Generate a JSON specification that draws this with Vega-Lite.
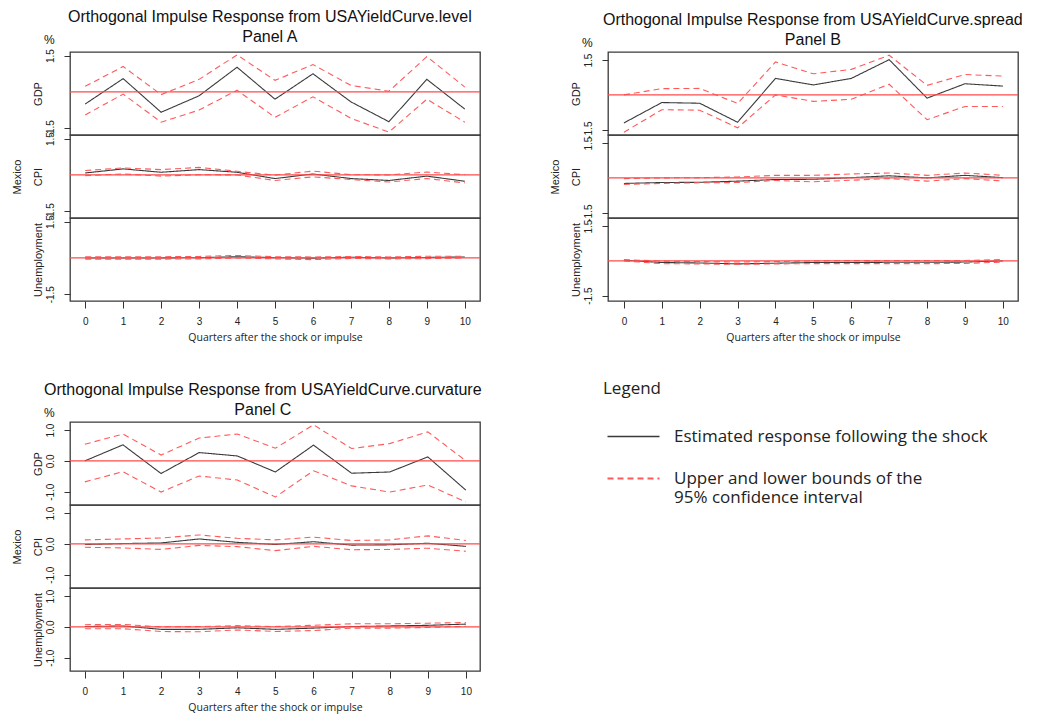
{
  "$schema": "https://vega.github.io/schema/vega-lite/v6.json",
  "padding": {"left": 10, "top": 9, "right": 5, "bottom": 3},
  "background": "white",
  "datasets": {
    "irf": [
      {"panel":"A","resp":"GDP","q":0,"est":-0.50,"lo":-0.95,"hi":0.23},
      {"panel":"A","resp":"GDP","q":1,"est":0.55,"lo":-0.09,"hi":1.05},
      {"panel":"A","resp":"GDP","q":2,"est":-0.84,"lo":-1.25,"hi":-0.11},
      {"panel":"A","resp":"GDP","q":3,"est":-0.16,"lo":-0.75,"hi":0.52},
      {"panel":"A","resp":"GDP","q":4,"est":1.02,"lo":0.07,"hi":1.53},
      {"panel":"A","resp":"GDP","q":5,"est":-0.30,"lo":-1.05,"hi":0.48},
      {"panel":"A","resp":"GDP","q":6,"est":0.75,"lo":-0.20,"hi":1.13},
      {"panel":"A","resp":"GDP","q":7,"est":-0.41,"lo":-1.09,"hi":0.27},
      {"panel":"A","resp":"GDP","q":8,"est":-1.23,"lo":-1.66,"hi":0.03},
      {"panel":"A","resp":"GDP","q":9,"est":0.52,"lo":-0.30,"hi":1.46},
      {"panel":"A","resp":"GDP","q":10,"est":-0.71,"lo":-1.25,"hi":0.20},
      {"panel":"A","resp":"CPI","q":0,"est":0.08,"lo":-0.03,"hi":0.18},
      {"panel":"A","resp":"CPI","q":1,"est":0.25,"lo":0.04,"hi":0.29},
      {"panel":"A","resp":"CPI","q":2,"est":0.11,"lo":-0.05,"hi":0.22},
      {"panel":"A","resp":"CPI","q":3,"est":0.22,"lo":0.01,"hi":0.31},
      {"panel":"A","resp":"CPI","q":4,"est":0.11,"lo":0.00,"hi":0.15},
      {"panel":"A","resp":"CPI","q":5,"est":-0.15,"lo":-0.23,"hi":-0.01},
      {"panel":"A","resp":"CPI","q":6,"est":0.04,"lo":-0.08,"hi":0.16},
      {"panel":"A","resp":"CPI","q":7,"est":-0.15,"lo":-0.19,"hi":0.01},
      {"panel":"A","resp":"CPI","q":8,"est":-0.23,"lo":-0.29,"hi":0.00},
      {"panel":"A","resp":"CPI","q":9,"est":-0.05,"lo":-0.15,"hi":0.12},
      {"panel":"A","resp":"CPI","q":10,"est":-0.26,"lo":-0.33,"hi":0.01},
      {"panel":"A","resp":"Unemployment","q":0,"est":0.00,"lo":-0.05,"hi":0.05},
      {"panel":"A","resp":"Unemployment","q":1,"est":0.00,"lo":-0.05,"hi":0.05},
      {"panel":"A","resp":"Unemployment","q":2,"est":0.00,"lo":-0.05,"hi":0.05},
      {"panel":"A","resp":"Unemployment","q":3,"est":0.01,"lo":-0.04,"hi":0.06},
      {"panel":"A","resp":"Unemployment","q":4,"est":0.05,"lo":0.00,"hi":0.10},
      {"panel":"A","resp":"Unemployment","q":5,"est":0.01,"lo":-0.04,"hi":0.05},
      {"panel":"A","resp":"Unemployment","q":6,"est":-0.01,"lo":-0.07,"hi":0.04},
      {"panel":"A","resp":"Unemployment","q":7,"est":0.03,"lo":-0.02,"hi":0.06},
      {"panel":"A","resp":"Unemployment","q":8,"est":0.00,"lo":-0.04,"hi":0.04},
      {"panel":"A","resp":"Unemployment","q":9,"est":0.02,"lo":-0.03,"hi":0.07},
      {"panel":"A","resp":"Unemployment","q":10,"est":0.04,"lo":0.00,"hi":0.07},
      {"panel":"B","resp":"GDP","q":0,"est":-1.21,"lo":-1.61,"hi":0.00},
      {"panel":"B","resp":"GDP","q":1,"est":-0.33,"lo":-0.64,"hi":0.27},
      {"panel":"B","resp":"GDP","q":2,"est":-0.36,"lo":-0.66,"hi":0.28},
      {"panel":"B","resp":"GDP","q":3,"est":-1.18,"lo":-1.42,"hi":-0.37},
      {"panel":"B","resp":"GDP","q":4,"est":0.71,"lo":0.00,"hi":1.42},
      {"panel":"B","resp":"GDP","q":5,"est":0.43,"lo":-0.28,"hi":0.91},
      {"panel":"B","resp":"GDP","q":6,"est":0.71,"lo":-0.19,"hi":1.10},
      {"panel":"B","resp":"GDP","q":7,"est":1.52,"lo":0.46,"hi":1.71},
      {"panel":"B","resp":"GDP","q":8,"est":-0.14,"lo":-1.07,"hi":0.41},
      {"panel":"B","resp":"GDP","q":9,"est":0.48,"lo":-0.50,"hi":0.88},
      {"panel":"B","resp":"GDP","q":10,"est":0.38,"lo":-0.50,"hi":0.81},
      {"panel":"B","resp":"CPI","q":0,"est":-0.24,"lo":-0.28,"hi":-0.03},
      {"panel":"B","resp":"CPI","q":1,"est":-0.20,"lo":-0.24,"hi":0.00},
      {"panel":"B","resp":"CPI","q":2,"est":-0.19,"lo":-0.21,"hi":0.01},
      {"panel":"B","resp":"CPI","q":3,"est":-0.14,"lo":-0.20,"hi":0.04},
      {"panel":"B","resp":"CPI","q":4,"est":-0.07,"lo":-0.11,"hi":0.11},
      {"panel":"B","resp":"CPI","q":5,"est":-0.06,"lo":-0.17,"hi":0.11},
      {"panel":"B","resp":"CPI","q":6,"est":0.01,"lo":-0.10,"hi":0.17},
      {"panel":"B","resp":"CPI","q":7,"est":0.09,"lo":-0.03,"hi":0.21},
      {"panel":"B","resp":"CPI","q":8,"est":0.00,"lo":-0.14,"hi":0.11},
      {"panel":"B","resp":"CPI","q":9,"est":0.11,"lo":-0.03,"hi":0.21},
      {"panel":"B","resp":"CPI","q":10,"est":0.01,"lo":-0.13,"hi":0.11},
      {"panel":"B","resp":"Unemployment","q":0,"est":0.03,"lo":0.00,"hi":0.06},
      {"panel":"B","resp":"Unemployment","q":1,"est":-0.07,"lo":-0.12,"hi":-0.01},
      {"panel":"B","resp":"Unemployment","q":2,"est":-0.09,"lo":-0.13,"hi":-0.03},
      {"panel":"B","resp":"Unemployment","q":3,"est":-0.13,"lo":-0.15,"hi":-0.05},
      {"panel":"B","resp":"Unemployment","q":4,"est":-0.10,"lo":-0.13,"hi":-0.03},
      {"panel":"B","resp":"Unemployment","q":5,"est":-0.07,"lo":-0.12,"hi":0.00},
      {"panel":"B","resp":"Unemployment","q":6,"est":-0.07,"lo":-0.12,"hi":0.01},
      {"panel":"B","resp":"Unemployment","q":7,"est":-0.06,"lo":-0.12,"hi":0.01},
      {"panel":"B","resp":"Unemployment","q":8,"est":-0.06,"lo":-0.12,"hi":0.01},
      {"panel":"B","resp":"Unemployment","q":9,"est":-0.05,"lo":-0.11,"hi":0.02},
      {"panel":"B","resp":"Unemployment","q":10,"est":0.00,"lo":-0.05,"hi":0.06},
      {"panel":"C","resp":"GDP","q":0,"est":0.00,"lo":-0.68,"hi":0.54},
      {"panel":"C","resp":"GDP","q":1,"est":0.52,"lo":-0.35,"hi":0.87},
      {"panel":"C","resp":"GDP","q":2,"est":-0.41,"lo":-1.01,"hi":0.19},
      {"panel":"C","resp":"GDP","q":3,"est":0.27,"lo":-0.49,"hi":0.74},
      {"panel":"C","resp":"GDP","q":4,"est":0.16,"lo":-0.62,"hi":0.87},
      {"panel":"C","resp":"GDP","q":5,"est":-0.36,"lo":-1.17,"hi":0.41},
      {"panel":"C","resp":"GDP","q":6,"est":0.51,"lo":-0.32,"hi":1.17},
      {"panel":"C","resp":"GDP","q":7,"est":-0.40,"lo":-0.81,"hi":0.40},
      {"panel":"C","resp":"GDP","q":8,"est":-0.36,"lo":-1.01,"hi":0.56},
      {"panel":"C","resp":"GDP","q":9,"est":0.13,"lo":-0.78,"hi":0.94},
      {"panel":"C","resp":"GDP","q":10,"est":-0.95,"lo":-1.33,"hi":0.00},
      {"panel":"C","resp":"CPI","q":0,"est":-0.02,"lo":-0.11,"hi":0.13},
      {"panel":"C","resp":"CPI","q":1,"est":0.01,"lo":-0.13,"hi":0.16},
      {"panel":"C","resp":"CPI","q":2,"est":0.03,"lo":-0.18,"hi":0.19},
      {"panel":"C","resp":"CPI","q":3,"est":0.16,"lo":-0.05,"hi":0.29},
      {"panel":"C","resp":"CPI","q":4,"est":0.05,"lo":-0.09,"hi":0.18},
      {"panel":"C","resp":"CPI","q":5,"est":-0.02,"lo":-0.22,"hi":0.13},
      {"panel":"C","resp":"CPI","q":6,"est":0.07,"lo":-0.08,"hi":0.22},
      {"panel":"C","resp":"CPI","q":7,"est":-0.04,"lo":-0.19,"hi":0.11},
      {"panel":"C","resp":"CPI","q":8,"est":-0.03,"lo":-0.18,"hi":0.13},
      {"panel":"C","resp":"CPI","q":9,"est":0.02,"lo":-0.14,"hi":0.26},
      {"panel":"C","resp":"CPI","q":10,"est":-0.08,"lo":-0.24,"hi":0.11},
      {"panel":"C","resp":"Unemployment","q":0,"est":0.01,"lo":-0.06,"hi":0.07},
      {"panel":"C","resp":"Unemployment","q":1,"est":0.03,"lo":-0.06,"hi":0.08},
      {"panel":"C","resp":"Unemployment","q":2,"est":-0.08,"lo":-0.15,"hi":0.00},
      {"panel":"C","resp":"Unemployment","q":3,"est":-0.08,"lo":-0.16,"hi":0.01},
      {"panel":"C","resp":"Unemployment","q":4,"est":-0.03,"lo":-0.10,"hi":0.04},
      {"panel":"C","resp":"Unemployment","q":5,"est":-0.08,"lo":-0.15,"hi":0.01},
      {"panel":"C","resp":"Unemployment","q":6,"est":-0.04,"lo":-0.12,"hi":0.05},
      {"panel":"C","resp":"Unemployment","q":7,"est":0.01,"lo":-0.04,"hi":0.10},
      {"panel":"C","resp":"Unemployment","q":8,"est":0.03,"lo":-0.04,"hi":0.10},
      {"panel":"C","resp":"Unemployment","q":9,"est":0.05,"lo":-0.02,"hi":0.12},
      {"panel":"C","resp":"Unemployment","q":10,"est":0.09,"lo":0.02,"hi":0.14}
    ]
  },
  "data": {"name": "irf"},
  "spacing": 38,
  "vconcat": [
    {
      "spacing": 66,
      "hconcat": [
        {
          "spacing": 0, "bounds": "flush",
          "title": {"text": ["Orthogonal Impulse Response from USAYieldCurve.level", "Panel A"], "anchor": "middle", "frame": "bounds", "dx": 24, "offset": -12},
          "vconcat": [
            {
              "width": 410, "height": 83,
              "title": {"text": "%", "anchor": "start", "frame": "group", "dx": -26, "offset": 2, "fontSize": 12, "lineHeight": 12},
              "transform": [{"filter": "datum.panel == 'A' && datum.resp == 'GDP'"}, {"fold": ["est", "hi", "lo"], "as": ["key", "value"]}],
              "layer": [
                {"mark": {"type": "line", "strokeWidth": 1.1},
                 "encoding": {
                   "x": {"field": "q", "type": "quantitative", "scale": {"domain": [-0.4, 10.4], "nice": false, "zero": false}, "axis": null},
                   "y": {"field": "value", "type": "quantitative", "scale": {"domain": [-1.78, 1.65], "nice": false, "zero": false}, "axis": {"title": "GDP", "values": [-1.5, -1, -0.5, 0, 0.5, 1, 1.5], "labelExpr": "datum.value == 0 ? '0.0' : datum.value == 1.5 ? '1.5' : datum.value == -1.5 ? '-1.5' : ''"}},
                   "detail": {"field": "key"},
                   "color": {"field": "key", "type": "nominal", "scale": {"domain": ["est", "hi", "lo"], "range": ["#3a3a3a", "#ff5a5a", "#ff5a5a"]}, "legend": {"title": "Legend", "values": ["est", "hi"], "labelExpr": "datum.value == 'est' ? 'Estimated response following the shock' : ['Upper and lower bounds of the', '95% confidence interval']", "encode": {"symbols": {"update": {"strokeDash": {"signal": "datum.value == 'est' ? [] : [1.5, 1]"}, "strokeWidth": {"signal": "datum.value == 'est' ? 1.3 : 2"}}}}}},
                   "strokeDash": {"field": "key", "type": "nominal", "scale": {"domain": ["est", "hi", "lo"], "range": [[1, 0], [6, 4], [6, 4]]}, "legend": null}
                 }},
                {"transform": [{"filter": "datum.q == 0 && datum.key == 'est'"}], "mark": {"type": "rule", "color": "#ff4a4a", "strokeWidth": 1.3}, "encoding": {"y": {"datum": 0, "type": "quantitative"}}}
              ]
            },
            {
              "width": 410, "height": 83,
              "transform": [{"filter": "datum.panel == 'A' && datum.resp == 'CPI'"}, {"fold": ["est", "hi", "lo"], "as": ["key", "value"]}],
              "layer": [
                {"mark": {"type": "line", "strokeWidth": 1.1},
                 "encoding": {
                   "x": {"field": "q", "type": "quantitative", "scale": {"domain": [-0.4, 10.4], "nice": false, "zero": false}, "axis": null},
                   "y": {"field": "value", "type": "quantitative", "scale": {"domain": [-1.78, 1.65], "nice": false, "zero": false}, "axis": {"title": ["Mexico", "CPI"], "titleLineHeight": 21, "values": [-1.5, -1, -0.5, 0, 0.5, 1, 1.5], "labelExpr": "datum.value == 0 ? '0.0' : datum.value == 1.5 ? '1.5' : datum.value == -1.5 ? '-1.5' : ''"}},
                   "detail": {"field": "key"},
                   "color": {"field": "key", "type": "nominal", "scale": {"domain": ["est", "hi", "lo"], "range": ["#3a3a3a", "#ff5a5a", "#ff5a5a"]}, "legend": {"title": "Legend", "values": ["est", "hi"], "labelExpr": "datum.value == 'est' ? 'Estimated response following the shock' : ['Upper and lower bounds of the', '95% confidence interval']", "encode": {"symbols": {"update": {"strokeDash": {"signal": "datum.value == 'est' ? [] : [1.5, 1]"}, "strokeWidth": {"signal": "datum.value == 'est' ? 1.3 : 2"}}}}}},
                   "strokeDash": {"field": "key", "type": "nominal", "scale": {"domain": ["est", "hi", "lo"], "range": [[1, 0], [6, 4], [6, 4]]}, "legend": null}
                 }},
                {"transform": [{"filter": "datum.q == 0 && datum.key == 'est'"}], "mark": {"type": "rule", "color": "#ff4a4a", "strokeWidth": 1.3}, "encoding": {"y": {"datum": 0, "type": "quantitative"}}}
              ]
            },
            {
              "width": 410, "height": 83,
              "transform": [{"filter": "datum.panel == 'A' && datum.resp == 'Unemployment'"}, {"fold": ["est", "hi", "lo"], "as": ["key", "value"]}],
              "layer": [
                {"mark": {"type": "line", "strokeWidth": 1.1},
                 "encoding": {
                   "x": {"field": "q", "type": "quantitative", "scale": {"domain": [-0.4, 10.4], "nice": false, "zero": false}, "axis": {"title": "Quarters after the shock or impulse", "values": [0, 1, 2, 3, 4, 5, 6, 7, 8, 9, 10], "format": "d"}},
                   "y": {"field": "value", "type": "quantitative", "scale": {"domain": [-1.78, 1.65], "nice": false, "zero": false}, "axis": {"title": "Unemployment", "values": [-1.5, -1, -0.5, 0, 0.5, 1, 1.5], "labelExpr": "datum.value == 0 ? '0.0' : datum.value == 1.5 ? '1.5' : datum.value == -1.5 ? '-1.5' : ''"}},
                   "detail": {"field": "key"},
                   "color": {"field": "key", "type": "nominal", "scale": {"domain": ["est", "hi", "lo"], "range": ["#3a3a3a", "#ff5a5a", "#ff5a5a"]}, "legend": {"title": "Legend", "values": ["est", "hi"], "labelExpr": "datum.value == 'est' ? 'Estimated response following the shock' : ['Upper and lower bounds of the', '95% confidence interval']", "encode": {"symbols": {"update": {"strokeDash": {"signal": "datum.value == 'est' ? [] : [1.5, 1]"}, "strokeWidth": {"signal": "datum.value == 'est' ? 1.3 : 2"}}}}}},
                   "strokeDash": {"field": "key", "type": "nominal", "scale": {"domain": ["est", "hi", "lo"], "range": [[1, 0], [6, 4], [6, 4]]}, "legend": null}
                 }},
                {"transform": [{"filter": "datum.q == 0 && datum.key == 'est'"}], "mark": {"type": "rule", "color": "#ff4a4a", "strokeWidth": 1.3}, "encoding": {"y": {"datum": 0, "type": "quantitative"}}}
              ]
            }
          ]
        },
        {
          "spacing": 0, "bounds": "flush",
          "title": {"text": ["Orthogonal Impulse Response from USAYieldCurve.spread", "Panel B"], "anchor": "middle", "frame": "bounds", "dx": 29, "offset": -12},
          "vconcat": [
            {
              "width": 410, "height": 83,
              "title": {"text": "%", "anchor": "start", "frame": "group", "dx": -26, "offset": 2, "fontSize": 12, "lineHeight": 12},
              "transform": [{"filter": "datum.panel == 'B' && datum.resp == 'GDP'"}, {"fold": ["est", "hi", "lo"], "as": ["key", "value"]}],
              "layer": [
                {"mark": {"type": "line", "strokeWidth": 1.1},
                 "encoding": {
                   "x": {"field": "q", "type": "quantitative", "scale": {"domain": [-0.42, 10.4], "nice": false, "zero": false}, "axis": null},
                   "y": {"field": "value", "type": "quantitative", "scale": {"domain": [-1.73, 1.85], "nice": false, "zero": false}, "axis": {"title": "GDP", "values": [-1.5, -1, -0.5, 0, 0.5, 1, 1.5], "labelExpr": "datum.value == 0 ? '0.0' : datum.value == 1.5 ? '1.5' : datum.value == -1.5 ? '-1.5' : ''"}},
                   "detail": {"field": "key"},
                   "color": {"field": "key", "type": "nominal", "scale": {"domain": ["est", "hi", "lo"], "range": ["#3a3a3a", "#ff5a5a", "#ff5a5a"]}, "legend": {"title": "Legend", "values": ["est", "hi"], "labelExpr": "datum.value == 'est' ? 'Estimated response following the shock' : ['Upper and lower bounds of the', '95% confidence interval']", "encode": {"symbols": {"update": {"strokeDash": {"signal": "datum.value == 'est' ? [] : [1.5, 1]"}, "strokeWidth": {"signal": "datum.value == 'est' ? 1.3 : 2"}}}}}},
                   "strokeDash": {"field": "key", "type": "nominal", "scale": {"domain": ["est", "hi", "lo"], "range": [[1, 0], [6, 4], [6, 4]]}, "legend": null}
                 }},
                {"transform": [{"filter": "datum.q == 0 && datum.key == 'est'"}], "mark": {"type": "rule", "color": "#ff4a4a", "strokeWidth": 1.3}, "encoding": {"y": {"datum": 0, "type": "quantitative"}}}
              ]
            },
            {
              "width": 410, "height": 83,
              "transform": [{"filter": "datum.panel == 'B' && datum.resp == 'CPI'"}, {"fold": ["est", "hi", "lo"], "as": ["key", "value"]}],
              "layer": [
                {"mark": {"type": "line", "strokeWidth": 1.1},
                 "encoding": {
                   "x": {"field": "q", "type": "quantitative", "scale": {"domain": [-0.42, 10.4], "nice": false, "zero": false}, "axis": null},
                   "y": {"field": "value", "type": "quantitative", "scale": {"domain": [-1.73, 1.85], "nice": false, "zero": false}, "axis": {"title": ["Mexico", "CPI"], "titleLineHeight": 21, "values": [-1.5, -1, -0.5, 0, 0.5, 1, 1.5], "labelExpr": "datum.value == 0 ? '0.0' : datum.value == 1.5 ? '1.5' : datum.value == -1.5 ? '-1.5' : ''"}},
                   "detail": {"field": "key"},
                   "color": {"field": "key", "type": "nominal", "scale": {"domain": ["est", "hi", "lo"], "range": ["#3a3a3a", "#ff5a5a", "#ff5a5a"]}, "legend": {"title": "Legend", "values": ["est", "hi"], "labelExpr": "datum.value == 'est' ? 'Estimated response following the shock' : ['Upper and lower bounds of the', '95% confidence interval']", "encode": {"symbols": {"update": {"strokeDash": {"signal": "datum.value == 'est' ? [] : [1.5, 1]"}, "strokeWidth": {"signal": "datum.value == 'est' ? 1.3 : 2"}}}}}},
                   "strokeDash": {"field": "key", "type": "nominal", "scale": {"domain": ["est", "hi", "lo"], "range": [[1, 0], [6, 4], [6, 4]]}, "legend": null}
                 }},
                {"transform": [{"filter": "datum.q == 0 && datum.key == 'est'"}], "mark": {"type": "rule", "color": "#ff4a4a", "strokeWidth": 1.3}, "encoding": {"y": {"datum": 0, "type": "quantitative"}}}
              ]
            },
            {
              "width": 410, "height": 83,
              "transform": [{"filter": "datum.panel == 'B' && datum.resp == 'Unemployment'"}, {"fold": ["est", "hi", "lo"], "as": ["key", "value"]}],
              "layer": [
                {"mark": {"type": "line", "strokeWidth": 1.1},
                 "encoding": {
                   "x": {"field": "q", "type": "quantitative", "scale": {"domain": [-0.42, 10.4], "nice": false, "zero": false}, "axis": {"title": "Quarters after the shock or impulse", "values": [0, 1, 2, 3, 4, 5, 6, 7, 8, 9, 10], "format": "d"}},
                   "y": {"field": "value", "type": "quantitative", "scale": {"domain": [-1.73, 1.85], "nice": false, "zero": false}, "axis": {"title": "Unemployment", "values": [-1.5, -1, -0.5, 0, 0.5, 1, 1.5], "labelExpr": "datum.value == 0 ? '0.0' : datum.value == 1.5 ? '1.5' : datum.value == -1.5 ? '-1.5' : ''"}},
                   "detail": {"field": "key"},
                   "color": {"field": "key", "type": "nominal", "scale": {"domain": ["est", "hi", "lo"], "range": ["#3a3a3a", "#ff5a5a", "#ff5a5a"]}, "legend": {"title": "Legend", "values": ["est", "hi"], "labelExpr": "datum.value == 'est' ? 'Estimated response following the shock' : ['Upper and lower bounds of the', '95% confidence interval']", "encode": {"symbols": {"update": {"strokeDash": {"signal": "datum.value == 'est' ? [] : [1.5, 1]"}, "strokeWidth": {"signal": "datum.value == 'est' ? 1.3 : 2"}}}}}},
                   "strokeDash": {"field": "key", "type": "nominal", "scale": {"domain": ["est", "hi", "lo"], "range": [[1, 0], [6, 4], [6, 4]]}, "legend": null}
                 }},
                {"transform": [{"filter": "datum.q == 0 && datum.key == 'est'"}], "mark": {"type": "rule", "color": "#ff4a4a", "strokeWidth": 1.3}, "encoding": {"y": {"datum": 0, "type": "quantitative"}}}
              ]
            }
          ]
        }
      ]
    },
    {
      "spacing": 0, "bounds": "flush",
      "title": {"text": ["Orthogonal Impulse Response from USAYieldCurve.curvature", "Panel C"], "anchor": "middle", "frame": "bounds", "dx": 17, "offset": -12},
      "vconcat": [
        {
          "width": 410, "height": 83,
          "title": {"text": "%", "anchor": "start", "frame": "group", "dx": -26, "offset": 2, "fontSize": 12, "lineHeight": 12},
          "transform": [{"filter": "datum.panel == 'C' && datum.resp == 'GDP'"}, {"fold": ["est", "hi", "lo"], "as": ["key", "value"]}],
          "layer": [
            {"mark": {"type": "line", "strokeWidth": 1.1},
             "encoding": {
               "x": {"field": "q", "type": "quantitative", "scale": {"domain": [-0.39, 10.37], "nice": false, "zero": false}, "axis": null},
               "y": {"field": "value", "type": "quantitative", "scale": {"domain": [-1.43, 1.26], "nice": false, "zero": false}, "axis": {"title": "GDP", "values": [-1, -0.5, 0, 0.5, 1], "labelExpr": "datum.value == 0 ? '0.0' : datum.value == 1 ? '1.0' : datum.value == -1 ? '-1.0' : ''"}},
               "detail": {"field": "key"},
               "color": {"field": "key", "type": "nominal", "scale": {"domain": ["est", "hi", "lo"], "range": ["#3a3a3a", "#ff5a5a", "#ff5a5a"]}, "legend": {"title": "Legend", "values": ["est", "hi"], "labelExpr": "datum.value == 'est' ? 'Estimated response following the shock' : ['Upper and lower bounds of the', '95% confidence interval']", "encode": {"symbols": {"update": {"strokeDash": {"signal": "datum.value == 'est' ? [] : [1.5, 1]"}, "strokeWidth": {"signal": "datum.value == 'est' ? 1.3 : 2"}}}}}},
               "strokeDash": {"field": "key", "type": "nominal", "scale": {"domain": ["est", "hi", "lo"], "range": [[1, 0], [6, 4], [6, 4]]}, "legend": null}
             }},
            {"transform": [{"filter": "datum.q == 0 && datum.key == 'est'"}], "mark": {"type": "rule", "color": "#ff4a4a", "strokeWidth": 1.3}, "encoding": {"y": {"datum": 0, "type": "quantitative"}}}
          ]
        },
        {
          "width": 410, "height": 83,
          "transform": [{"filter": "datum.panel == 'C' && datum.resp == 'CPI'"}, {"fold": ["est", "hi", "lo"], "as": ["key", "value"]}],
          "layer": [
            {"mark": {"type": "line", "strokeWidth": 1.1},
             "encoding": {
               "x": {"field": "q", "type": "quantitative", "scale": {"domain": [-0.39, 10.37], "nice": false, "zero": false}, "axis": null},
               "y": {"field": "value", "type": "quantitative", "scale": {"domain": [-1.43, 1.26], "nice": false, "zero": false}, "axis": {"title": ["Mexico", "CPI"], "titleLineHeight": 21, "values": [-1, -0.5, 0, 0.5, 1], "labelExpr": "datum.value == 0 ? '0.0' : datum.value == 1 ? '1.0' : datum.value == -1 ? '-1.0' : ''"}},
               "detail": {"field": "key"},
               "color": {"field": "key", "type": "nominal", "scale": {"domain": ["est", "hi", "lo"], "range": ["#3a3a3a", "#ff5a5a", "#ff5a5a"]}, "legend": {"title": "Legend", "values": ["est", "hi"], "labelExpr": "datum.value == 'est' ? 'Estimated response following the shock' : ['Upper and lower bounds of the', '95% confidence interval']", "encode": {"symbols": {"update": {"strokeDash": {"signal": "datum.value == 'est' ? [] : [1.5, 1]"}, "strokeWidth": {"signal": "datum.value == 'est' ? 1.3 : 2"}}}}}},
               "strokeDash": {"field": "key", "type": "nominal", "scale": {"domain": ["est", "hi", "lo"], "range": [[1, 0], [6, 4], [6, 4]]}, "legend": null}
             }},
            {"transform": [{"filter": "datum.q == 0 && datum.key == 'est'"}], "mark": {"type": "rule", "color": "#ff4a4a", "strokeWidth": 1.3}, "encoding": {"y": {"datum": 0, "type": "quantitative"}}}
          ]
        },
        {
          "width": 410, "height": 83,
          "transform": [{"filter": "datum.panel == 'C' && datum.resp == 'Unemployment'"}, {"fold": ["est", "hi", "lo"], "as": ["key", "value"]}],
          "layer": [
            {"mark": {"type": "line", "strokeWidth": 1.1},
             "encoding": {
               "x": {"field": "q", "type": "quantitative", "scale": {"domain": [-0.39, 10.37], "nice": false, "zero": false}, "axis": {"title": "Quarters after the shock or impulse", "values": [0, 1, 2, 3, 4, 5, 6, 7, 8, 9, 10], "format": "d"}},
               "y": {"field": "value", "type": "quantitative", "scale": {"domain": [-1.43, 1.26], "nice": false, "zero": false}, "axis": {"title": "Unemployment", "values": [-1, -0.5, 0, 0.5, 1], "labelExpr": "datum.value == 0 ? '0.0' : datum.value == 1 ? '1.0' : datum.value == -1 ? '-1.0' : ''"}},
               "detail": {"field": "key"},
               "color": {"field": "key", "type": "nominal", "scale": {"domain": ["est", "hi", "lo"], "range": ["#3a3a3a", "#ff5a5a", "#ff5a5a"]}, "legend": {"title": "Legend", "values": ["est", "hi"], "labelExpr": "datum.value == 'est' ? 'Estimated response following the shock' : ['Upper and lower bounds of the', '95% confidence interval']", "encode": {"symbols": {"update": {"strokeDash": {"signal": "datum.value == 'est' ? [] : [1.5, 1]"}, "strokeWidth": {"signal": "datum.value == 'est' ? 1.3 : 2"}}}}}},
               "strokeDash": {"field": "key", "type": "nominal", "scale": {"domain": ["est", "hi", "lo"], "range": [[1, 0], [6, 4], [6, 4]]}, "legend": null}
             }},
            {"transform": [{"filter": "datum.q == 0 && datum.key == 'est'"}], "mark": {"type": "rule", "color": "#ff4a4a", "strokeWidth": 1.3}, "encoding": {"y": {"datum": 0, "type": "quantitative"}}}
          ]
        }
      ]
    }
  ],
  "config": {
    "view": {"stroke": "#3a3a3a", "strokeWidth": 1.3},
    "axis": {"grid": false, "domain": false, "ticks": true, "tickColor": "#333333", "tickWidth": 1, "labelFont": "Liberation Sans", "labelFontSize": 10, "labelColor": "#222222", "titleFont": "Liberation Sans", "titleFontSize": 11, "titleFontWeight": "normal", "titleColor": "#222222", "labelOverlap": false},
    "axisY": {"tickSize": 6, "labelAngle": -90, "labelAlign": "center", "labelBaseline": "middle", "labelPadding": 14, "titlePadding": 2},
    "axisX": {"tickSize": 7, "labelPadding": 8, "titleFont": "Open Sans", "titleFontSize": 10.5, "titlePadding": 6, "labelFlush": false},
    "title": {"font": "Liberation Sans", "fontSize": 16, "fontWeight": "normal", "color": "#111111", "lineHeight": 20},
    "legend": {"orient": "none", "legendX": 533, "legendY": 329, "padding": 0, "symbolType": "stroke", "symbolSize": 2704, "symbolStrokeWidth": 1.3, "symbolOffset": 22, "labelFont": "Open Sans", "labelFontSize": 17, "labelLimit": 500, "labelOffset": 32, "labelColor": "#222222", "titleFont": "Open Sans", "titleFontSize": 17, "titleFontWeight": "normal", "titleColor": "#222222", "titlePadding": 30, "rowPadding": 24}
  }
}
